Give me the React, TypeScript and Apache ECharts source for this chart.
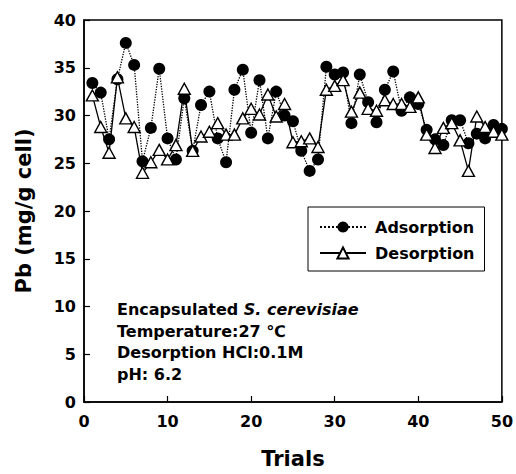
import React, { useEffect, useRef } from "react";
import * as echarts from "echarts";

const trials = Array.from({ length: 50 }, (_, i) => i + 1);

const adsorption = [
  33.4, 32.4, 27.5, 33.8, 37.6, 35.3, 25.2, 28.7, 34.9, 27.6,
  25.4, 31.8, 26.3, 31.1, 32.5, 27.6, 25.1, 32.7, 34.8, 28.2,
  33.7, 27.6, 32.5, 30.0, 29.4, 26.3, 24.2, 25.4, 35.1, 34.3,
  34.5, 29.2, 34.3, 31.4, 29.3, 32.7, 34.6, 30.5, 31.9, 31.2,
  28.5, 27.5, 26.9, 29.5, 29.5, 27.1, 28.1, 27.6, 29.0, 28.6,
];

const desorption = [
  32.1, 28.8, 26.1, 34.0, 29.7, 28.8, 24.0, 25.1, 26.4, 25.4,
  26.9, 32.8, 26.3, 27.8, 28.3, 29.2, 28.0, 28.0, 29.7, 30.7,
  30.1, 32.2, 29.9, 31.2, 27.2, 27.3, 27.6, 26.7, 32.7, 33.1,
  33.7, 30.4, 32.4, 30.7, 30.5, 31.6, 31.2, 31.2, 30.9, 31.9,
  28.0, 26.6, 28.7, 29.2, 27.4, 24.2, 29.9, 28.8, 28.3, 28.0,
];

const xTicks = { min: 0, max: 50, interval: 10 };
const yTicks = { min: 0, max: 40, interval: 5 };

const annotationLines = [
  ["Encapsulated ", "S. cerevisiae"],
  ["Temperature:27 ℃", ""],
  ["Desorption HCl:0.1M", ""],
  ["pH: 6.2", ""],
];

const FONT = "'DejaVu Sans', Verdana, sans-serif";

export default function App() {
  const ref = useRef<HTMLDivElement>(null);
  useEffect(() => {
    if (!ref.current) return;
    const chart = echarts.init(ref.current, null, { renderer: "svg" });
    const annText = annotationLines
      .map(([n, i]) => (i ? `{n|${n}}{i|${i}}` : `{n|${n}}`))
      .join("\n");
    chart.setOption({
      animation: false,
      backgroundColor: "#fff",
      textStyle: { fontFamily: FONT },
      grid: {
        left: 84,
        top: 20,
        right: 12,
        bottom: 65,
        show: true,
        borderColor: "#000",
        borderWidth: 1.5,
        backgroundColor: "transparent",
      },
      legend: {
        orient: "vertical",
        left: 308,
        top: 207,
        borderColor: "#000",
        borderWidth: 1,
        padding: [12, 10, 10, 11],
        itemGap: 10,
        itemWidth: 46,
        itemHeight: 14,
        textStyle: {
          fontFamily: FONT,
          fontSize: 16,
          fontWeight: "bold",
          color: "#000",
          padding: [0, 0, 0, 4],
        },
        data: ["Adsorption", "Desorption"],
      },
      xAxis: {
        type: "value",
        min: xTicks.min,
        max: xTicks.max,
        interval: xTicks.interval,
        name: "Trials",
        nameLocation: "middle",
        nameGap: 46,
        nameTextStyle: { fontFamily: FONT, fontSize: 21, fontWeight: "bold", color: "#000" },
        axisLine: { lineStyle: { color: "#000", width: 1.5 } },
        axisTick: { inside: true, length: 6, lineStyle: { color: "#000", width: 1.2 } },
        axisLabel: { fontFamily: FONT, fontSize: 16, fontWeight: "bold", color: "#000", margin: 11 },
        splitLine: { show: false },
      },
      yAxis: {
        type: "value",
        min: yTicks.min,
        max: yTicks.max,
        interval: yTicks.interval,
        name: "Pb (mg/g cell)",
        nameLocation: "middle",
        nameGap: 50,
        nameTextStyle: { fontFamily: FONT, fontSize: 21, fontWeight: "bold", color: "#000" },
        axisLine: { lineStyle: { color: "#000", width: 1.5 } },
        axisTick: { inside: true, length: 6, lineStyle: { color: "#000", width: 1.2 } },
        axisLabel: { fontFamily: FONT, fontSize: 16, fontWeight: "bold", color: "#000", margin: 8 },
        splitLine: { show: false },
      },
      graphic: [
        {
          type: "text",
          left: 117,
          top: 299,
          style: {
            text: annText,
            fill: "#000",
            font: `bold 16px ${FONT}`,
            lineHeight: 21.5,
            rich: {
              n: { fontFamily: FONT, fontSize: 16, fontWeight: "bold", fill: "#000", lineHeight: 21.5 },
              i: { fontFamily: FONT, fontSize: 16, fontWeight: "bold", fontStyle: "italic", fill: "#000", lineHeight: 21.5 },
            },
          },
        },
      ],
      series: [
        {
          name: "Adsorption",
          type: "line",
          data: trials.map((t, k) => [t, adsorption[k]]),
          symbol: "circle",
          symbolSize: 12,
          itemStyle: { color: "#000", borderColor: "#000", borderWidth: 0 },
          lineStyle: { color: "#000", width: 1.3, type: "dotted" },
          z: 2,
        },
        {
          name: "Desorption",
          type: "line",
          data: trials.map((t, k) => [t, desorption[k]]),
          symbol: "triangle",
          symbolSize: [12, 11],
          itemStyle: { color: "#fff", borderColor: "#000", borderWidth: 1.4 },
          lineStyle: { color: "#000", width: 1.3, type: "solid" },
          z: 3,
        },
      ],
    });
    return () => chart.dispose();
  }, []);
  return (
    <div
      ref={ref}
      style={{ position: "fixed", left: 0, top: 0, width: 516, height: 474, background: "#fff" }}
    />
  );
}
